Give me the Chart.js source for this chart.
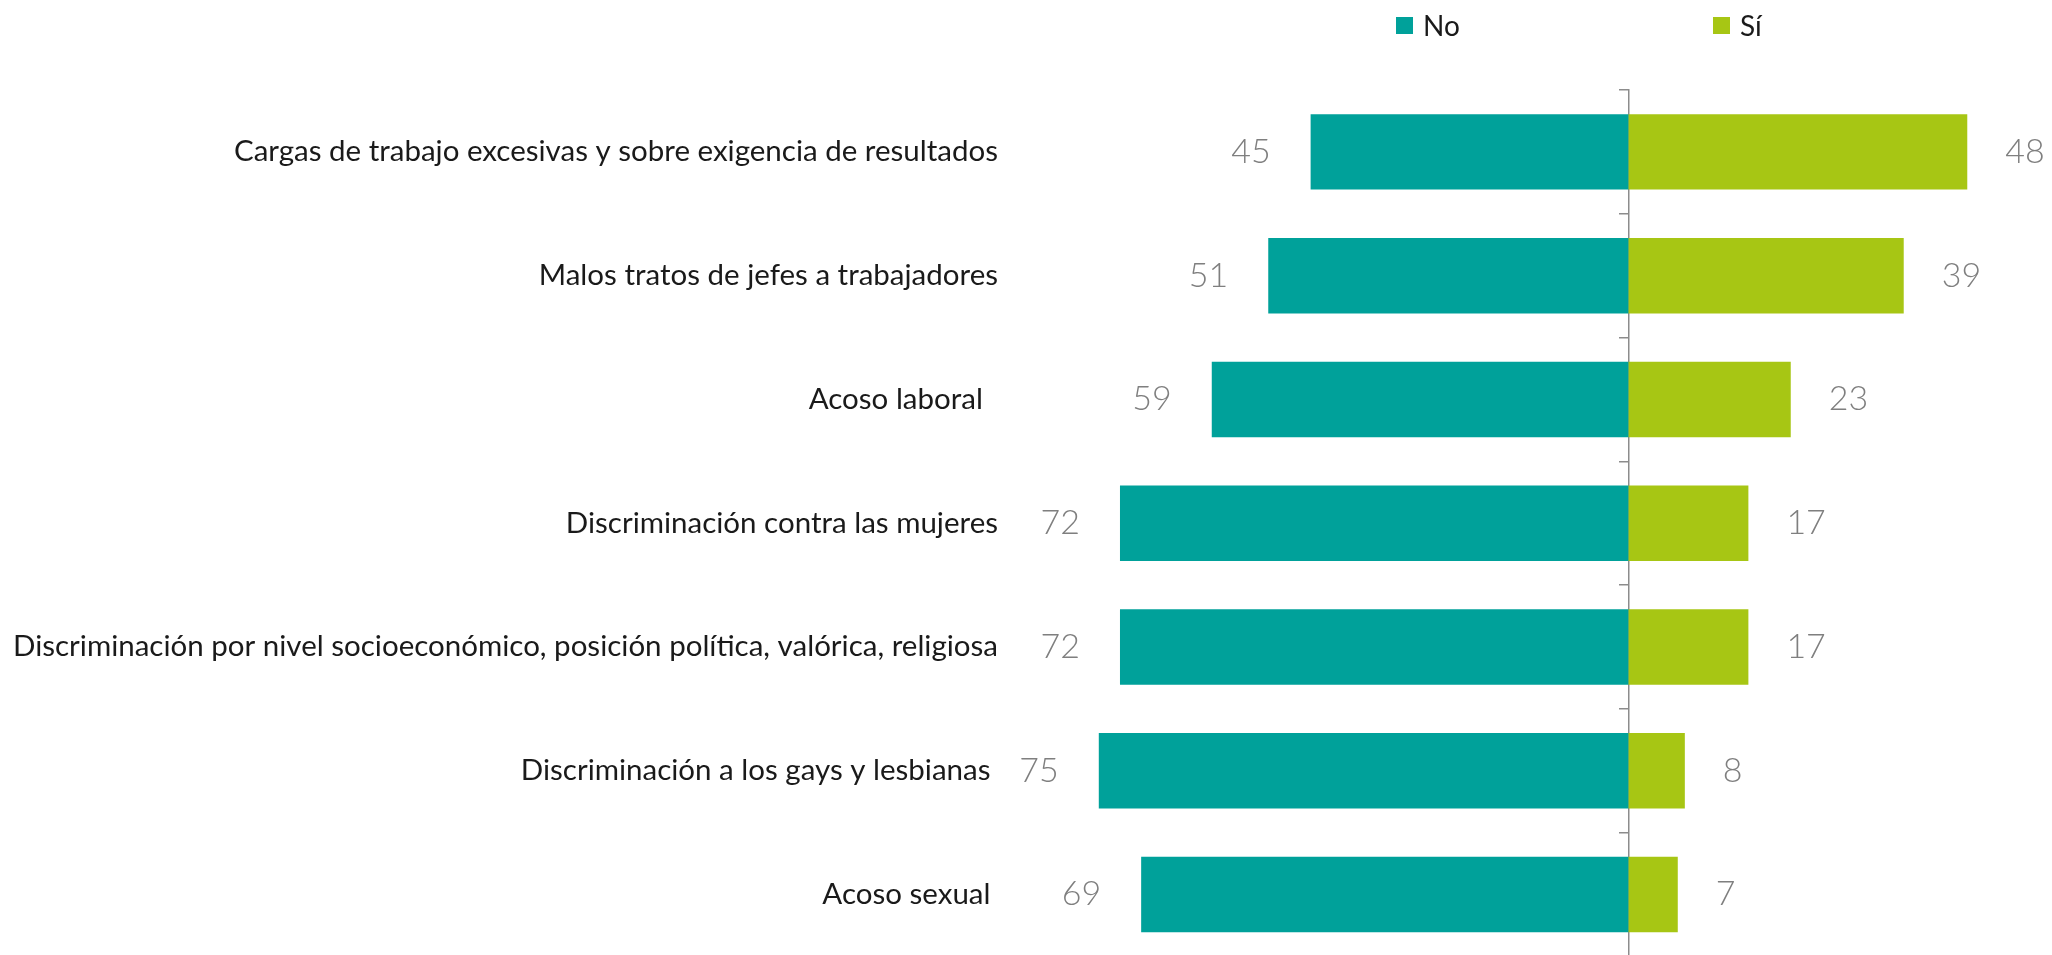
<!DOCTYPE html>
<html lang="es">
<head>
<meta charset="UTF-8" />
<title>Percepción de problemas laborales</title>
<script src="https://cdn.jsdelivr.net/npm/chart.js"></script>
<style>
  html, body { margin: 0; padding: 0; background: #fff; overflow: hidden; }
  .wrap { position: relative; width: 2052px; height: 975px; }
  .leyenda { position: absolute; left: 1396px; top: 8px; display: flex; font-family: Lato, sans-serif; font-size: 28px; color: #1a1a1a; }
  .leyenda .item { width: 317px; display: flex; align-items: center; }
  .leyenda .cuadro { width: 17px; height: 17px; margin-right: 10px; }
</style>
</head>
<body>
<div class="wrap">
  <canvas id="grafico"></canvas>
  <div class="leyenda" id="leyenda"></div>
</div>

<script>
  // Datos
  const categorias = [
    "Cargas de trabajo excesivas y sobre exigencia de resultados",
    "Malos tratos de jefes a trabajadores",
    "Acoso laboral  ",
    "Discriminación contra las mujeres",
    "Discriminación por nivel socioeconómico, posición política, valórica, religiosa",
    "Discriminación a los gays y lesbianas ",
    "Acoso sexual "
  ];
  const valoresNo = [45, 51, 59, 72, 72, 75, 69];
  const valoresSi = [48, 39, 23, 17, 17, 8, 7];
  const series = ["No", "Sí"];
  const colores = ["#00a19a", "#a7c614"];

  // Etiquetas de valor junto a cada barra
  const etiquetasValor = {
    id: "etiquetasValor",
    afterDatasetsDraw(chart) {
      const ctx = chart.ctx;
      ctx.save();
      ctx.font = "300 34px Lato";
      ctx.fillStyle = "#7f7f7f";
      ctx.textBaseline = "middle";
      chart.data.datasets.forEach((ds, i) => {
        chart.getDatasetMeta(i).data.forEach((bar, j) => {
          const v = Math.abs(ds.data[j]);
          if (bar.x < bar.base) {
            ctx.textAlign = "right";
            ctx.fillText(v, bar.x - 40, bar.y);
          } else {
            ctx.textAlign = "left";
            ctx.fillText(v, bar.x + 38, bar.y);
          }
        });
      });
      ctx.restore();
    }
  };

  const ctx = document.getElementById("grafico").getContext("2d");
  const grafico = new Chart(ctx, {
    type: "bar",
    data: {
      labels: categorias,
      datasets: [
        { label: series[0], data: valoresNo.map(v => -v), backgroundColor: colores[0] },
        { label: series[1], data: valoresSi, backgroundColor: colores[1] }
      ]
    },
    options: {
      indexAxis: "y",
      responsive: true,
      maintainAspectRatio: false,
      animation: false,
      categoryPercentage: 0.61,
      barPercentage: 1,
      layout: { padding: { top: 90, right: 0, bottom: 0, left: 0 } },
      plugins: { legend: { display: false }, tooltip: { enabled: false } },
      scales: {
        x: { stacked: true, display: false, min: -88, max: 60 },
        y: {
          stacked: true,
          grid: { display: false },
          border: { display: false },
          ticks: { padding: 1, color: "#1a1a1a", font: { family: "Lato", size: 29.5 } },
          afterFit: s => { s.width = 1007; }
        },
        eje: {
          type: "category",
          axis: "y",
          position: { x: 0 },
          offset: true,
          grid: { offset: true, drawOnChartArea: false, drawTicks: true, tickLength: 9, color: "#8c8c8c", lineWidth: 1.5 },
          border: { display: true, color: "#8c8c8c", width: 1.5 },
          ticks: { display: false }
        }
      }
    },
    plugins: [etiquetasValor]
  });

  // Leyenda en HTML
  const leyenda = document.getElementById("leyenda");
  grafico.data.datasets.forEach(ds => {
    const item = document.createElement("div");
    item.className = "item";
    item.innerHTML = `<span class="cuadro" style="background:${ds.backgroundColor}"></span><span>${ds.label}</span>`;
    leyenda.appendChild(item);
  });
</script>
</body>
</html>
